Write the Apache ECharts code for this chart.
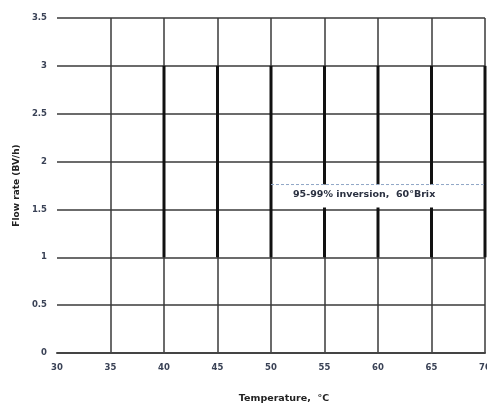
<!DOCTYPE html>
<html><head><meta charset="utf-8">
<script src="https://cdn.jsdelivr.net/npm/echarts@6/dist/echarts.min.js"></script>
<style>html,body{margin:0;padding:0;background:#fff}#c{width:487px;height:409px}</style>
</head><body><div id="c"></div>
<script>
// Data
const temperatures = [40, 45, 50, 55, 60, 65, 70];
const flowMin = [1, 1, 1, 1, 1, 1, 1];
const flowMax = [3, 3, 3, 3, 3, 3, 3];
const inversionLineX = [50, 70];
const inversionLineY = [1.76, 1.76];
const inversionBoxBottom = 1.5;
const inversionLabel = '95-99% inversion,  60°Brix';
const xName = 'Temperature,  °C';
const yName = 'Flow rate (BV/h)';

const ranges = temperatures.map((t, i) => [t, flowMin[i], flowMax[i]]);
const dashed = inversionLineX.map((x, i) => [x, inversionLineY[i]]);

const font = 'DejaVu Sans';
const labelColor = '#3a4256';
const chart = echarts.init(document.getElementById('c'));
chart.setOption({
  animation: false,
  grid: {left: 57, right: 2, top: 18, bottom: 56, outerBoundsMode: 'none', containLabel: false},
  xAxis: {
    type: 'value', min: 30, max: 70, interval: 5,
    name: xName, nameLocation: 'middle', nameGap: 41,
    nameTextStyle: {fontFamily: font, fontWeight: 'bold', fontSize: 9.5, color: '#222', padding: [0, 0, 0, 26]},
    axisLine: {show: true, lineStyle: {color: '#444', width: 2}},
    axisTick: {show: false},
    axisLabel: {fontFamily: font, fontWeight: 'bold', fontSize: 8.5, color: labelColor, margin: 10},
    splitLine: {show: true, showMinLine: false, lineStyle: {color: '#3a3a3a', width: 1.5}}
  },
  yAxis: {
    type: 'value', min: 0, max: 3.5, interval: 0.5,
    name: yName, nameLocation: 'middle', nameGap: 33,
    nameTextStyle: {fontFamily: font, fontWeight: 'bold', fontSize: 9, color: '#222'},
    axisLine: {show: false},
    axisTick: {show: false},
    axisLabel: {fontFamily: font, fontWeight: 'bold', fontSize: 8.5, color: labelColor, margin: 10},
    splitLine: {show: true, lineStyle: {color: '#3a3a3a', width: 1.5}}
  },
  series: [
    {
      type: 'custom',
      data: ranges,
      renderItem: function (params, api) {
        const a = api.coord([api.value(0), api.value(1)]);
        const b = api.coord([api.value(0), api.value(2)]);
        return {type: 'line', shape: {x1: a[0], y1: a[1], x2: b[0], y2: b[1]},
          style: {stroke: '#111', lineWidth: 3}};
      },
      z: 3
    },
    {
      type: 'line', data: dashed, showSymbol: false, symbol: 'none',
      lineStyle: {type: [3, 2], color: '#8fa6c6', width: 1}, z: 8
    }
  ]
});
const p = chart.convertToPixel({gridIndex: 0}, dashed[0]);
const q = chart.convertToPixel({gridIndex: 0}, [inversionLineX[1], inversionBoxBottom]);
chart.setOption({
  graphic: [{
    type: 'rect', z: 5,
    shape: {x: p[0] + 2, y: p[1], width: q[0] - p[0] - 4, height: q[1] - p[1] - 2},
    style: {fill: '#fff'}
  }, {
    type: 'text', z: 9, left: p[0] + 22, top: p[1] + 5,
    style: {text: inversionLabel, font: 'bold 9.5px "DejaVu Sans"', fill: '#2a3040'}
  }]
});
</script></body></html>
